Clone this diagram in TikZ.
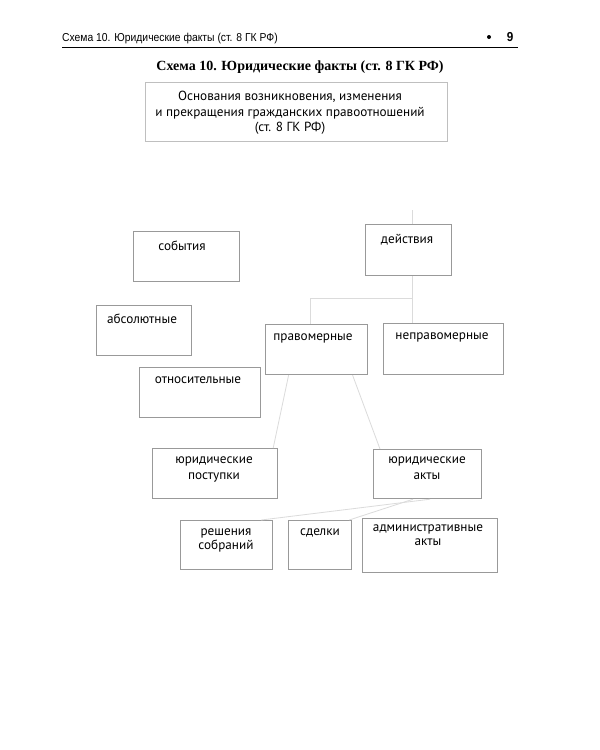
\documentclass[tikz,border=0pt]{standalone}
\usepackage{fontspec}
\setmainfont{Liberation Serif}
\newfontfamily\boxfont{PT Sans}
\newfontfamily\headfont[FakeStretch=0.9]{Liberation Sans}
\begin{document}
\begin{tikzpicture}[x=1pt,y=-1pt,
  box/.style={draw=black!40, line width=1.2pt, rectangle, anchor=north west, inner sep=0pt},
  lbl/.style={anchor=north, align=center, font=\boxfont\fontsize{13.2}{15.5}\selectfont, inner sep=0pt},
  conn/.style={draw=black!14, line width=0.8pt}]
\useasboundingbox[fill=white] (0,0) rectangle (600,750);
% header
\node[anchor=base west, font=\headfont\fontsize{11.5}{12}\selectfont, inner sep=0pt] (hdr) at (62,41) {Схема 10. Юридические факты (ст. 8 ГК РФ)};
\node[anchor=base, font=\headfont\fontsize{13}{14}\selectfont\bfseries, inner sep=0pt] (pg) at (510,41) {9};
\node[circle, fill=black, inner sep=0pt, minimum size=4pt] (dot) at (489,37) {};
\coordinate (rl) at (62,47.5);
\coordinate (rr) at (518,47.5);
\draw[line width=0.9pt] (rl) -- (rr);
% title
\node[anchor=base, font=\bfseries\fontsize{14}{16}\selectfont, inner sep=0pt] (title) at (300,70) {Схема 10. Юридические факты (ст. 8 ГК РФ)};
% boxes
\node[box, minimum width=302pt, minimum height=59pt, draw=black!25] (top) at (145,82) {};
\node[lbl] (topt) at (290,91) {Основания возникновения, изменения\\и прекращения гражданских правоотношений\\(ст. 8 ГК РФ)};
\node[box, minimum width=106pt, minimum height=50pt] (sob) at (133,231) {};
\node[lbl] (sobt) at (182,241) {события};
\node[box, minimum width=86pt, minimum height=51pt] (dei) at (365,224) {};
\node[lbl] (deit) at (407,234) {действия};
\node[box, minimum width=95pt, minimum height=50pt] (abs) at (96,305) {};
\node[lbl] (abst) at (142,314) {абсолютные};
\node[box, minimum width=121pt, minimum height=50pt] (otn) at (139,367) {};
\node[lbl] (otnt) at (198,377) {относительные};
\node[box, minimum width=102pt, minimum height=50pt] (prav) at (265,324) {};
\node[lbl] (pravt) at (313,334) {правомерные};
\node[box, minimum width=120pt, minimum height=51pt] (neprav) at (383,323) {};
\node[lbl] (nepravt) at (442,333) {неправомерные};
\node[box, minimum width=125pt, minimum height=50pt] (post) at (152,448) {};
\node[lbl] (postt) at (214,457) {юридические\\поступки};
\node[box, minimum width=108pt, minimum height=49pt] (akty) at (373,449) {};
\node[lbl] (aktyt) at (427,457) {юридические\\акты};
\node[box, minimum width=92pt, minimum height=49pt] (resh) at (180,520) {};
\node[lbl, font=\boxfont\fontsize{13.2}{14}\selectfont] (resht) at (226,529) {решения\\собраний};
\node[box, minimum width=63pt, minimum height=49pt] (sdel) at (288,520) {};
\node[lbl] (sdelt) at (320,529) {сделки};
\node[box, minimum width=135pt, minimum height=54pt] (adm) at (362,518) {};
\node[lbl, font=\boxfont\fontsize{13.2}{14}\selectfont] (admt) at (428,525) {административные\\акты};
% faint connectors
\coordinate (dj) at (412,298);
\coordinate (pj) at (310,298);
\draw[conn] (dei.south -| dj) -- (dj) -- (pj) -- (pj |- prav.north);
\draw[conn] (dj) -- (dj |- neprav.north);
\draw[conn] (dei.north -| dj) -- ++(0,-14);
\draw[conn] ([xshift=-28pt]prav.south) -- ([xshift=-5pt]post.north east);
\draw[conn] ([xshift=36pt]prav.south) -- ([xshift=7pt]akty.north west);
\draw[conn] ([xshift=57pt]akty.south west) -- ([xshift=-12pt]resh.north east);
\draw[conn] ([xshift=40pt]akty.south west) -- ([xshift=-3pt]sdel.north east);
\end{tikzpicture}
\end{document}
